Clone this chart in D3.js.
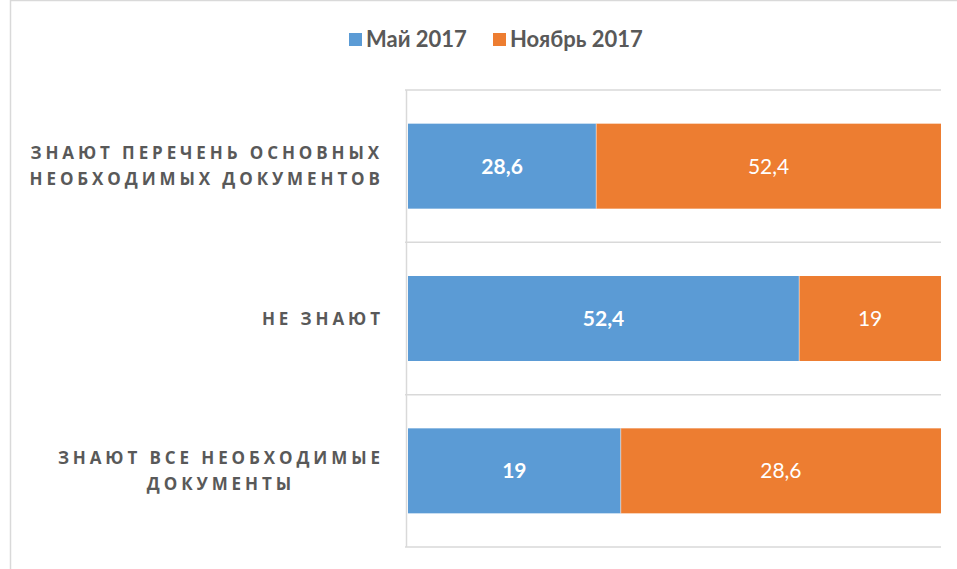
<!DOCTYPE html>
<html><head><meta charset="utf-8">
<script src="https://cdn.jsdelivr.net/npm/d3@7"></script>
<style>body{margin:0;background:#fff;}svg{display:block;}</style>
</head><body>
<script>
const categories = [
  ["ЗНАЮТ ПЕРЕЧЕНЬ ОСНОВНЫХ", "НЕОБХОДИМЫХ ДОКУМЕНТОВ"],
  ["НЕ ЗНАЮТ"],
  ["ЗНАЮТ ВСЕ НЕОБХОДИМЫЕ", "ДОКУМЕНТЫ"]
];
const seriesNames = ["Май 2017", "Ноябрь 2017"];
const may2017 = [28.6, 52.4, 19];
const nov2017 = [52.4, 19, 28.6];
const colors = ["#5b9bd5", "#ed7d31"];
const labelWeights = ["bold", "normal"];

const W = 957, H = 569;
const svg = d3.select("body").append("svg").attr("width", W).attr("height", H);

// outer border
svg.append("line").attr("x1",10.5).attr("x2",10.5).attr("y1",0).attr("y2",H).attr("stroke","#d9d9d9").attr("stroke-width",1.5);
svg.append("line").attr("x1",10).attr("x2",W).attr("y1",0.5).attr("y2",0.5).attr("stroke","#d9d9d9").attr("stroke-width",1.5);

const idx = d3.range(categories.length);
const y = d3.scaleBand().domain(idx).range([90, 547]).paddingInner(0.442).paddingOuter(0.221);
const x = d3.scaleLinear().domain([0, 1]).range([408, 941]);

const data = idx.map(i => {
  const vals = [may2017[i], nov2017[i]];
  const tot = d3.sum(vals);
  let acc = 0;
  return vals.map((v, s) => { const d = {i, s, v, x0: acc / tot, x1: (acc + v) / tot}; acc += v; return d; });
});

// separators (category boundaries)
const bounds = idx.map(i => y(i) - y.step() * y.paddingInner() / 2).concat([547]);
bounds[0] = 90;
svg.append("g").selectAll("line").data(bounds).join("line")
  .attr("x1", 405).attr("x2", 941).attr("y1", d => d).attr("y2", d => d)
  .attr("stroke", "#d9d9d9").attr("stroke-width", 1.5);
svg.append("line").attr("x1", 406.5).attr("x2", 406.5).attr("y1", 90).attr("y2", 547)
  .attr("stroke", "#d9d9d9").attr("stroke-width", 1.5);

const segs = data.flat();
svg.append("g").selectAll("rect").data(segs).join("rect")
  .attr("x", d => x(d.x0)).attr("width", d => x(d.x1) - x(d.x0))
  .attr("y", d => y(d.i)).attr("height", y.bandwidth())
  .attr("fill", d => colors[d.s]);
// thin white divider
svg.append("g").selectAll("line").data(segs.filter(d => d.s === 1)).join("line")
  .attr("x1", d => x(d.x0)).attr("x2", d => x(d.x0))
  .attr("y1", d => y(d.i)).attr("y2", d => y(d.i) + y.bandwidth())
  .attr("stroke", "#fff").attr("stroke-width", 0.8).attr("stroke-opacity", 0.6);

svg.append("g").selectAll("text").data(segs).join("text")
  .attr("x", d => (x(d.x0) + x(d.x1)) / 2).attr("y", d => y(d.i) + y.bandwidth() / 2)
  .attr("dy", "0.36em").attr("text-anchor", "middle")
  .attr("fill", "#fff").attr("font-family", "Lato, 'Open Sans', sans-serif")
  .attr("font-size", 21).attr("font-weight", d => labelWeights[d.s])
  .text(d => String(d.v).replace(".", ","));

// category labels (lines centred within a right-aligned block)
const ls = 3.9;
const rightEdge = 380 + ls;
const cat = svg.append("g").selectAll("text").data(idx).join("text")
  .attr("text-anchor", "middle").attr("fill", "#595959")
  .attr("font-family", "'Open Sans', sans-serif").attr("font-size", 17).attr("font-weight", "bold")
  .attr("letter-spacing", ls + "px")
  .attr("y", i => y(i) + y.bandwidth() / 2);
cat.each(function(i) {
  const lines = categories[i];
  const t = d3.select(this);
  const n = lines.length;
  const lh = 26 / 17;
  const spans = lines.map((ln, k) => t.append("tspan")
      .attr("dy", k === 0 ? ((-(n - 1) / 2) * lh + 0.36) + "em" : lh + "em")
      .text(ln));
  const maxW = d3.max(spans, s => s.node().getComputedTextLength());
  spans.forEach(s => s.attr("x", rightEdge - maxW / 2));
});

// legend
const leg = svg.append("g");
const legX = [349, 493];
seriesNames.forEach((nm, s) => {
  leg.append("rect").attr("x", legX[s]).attr("y", 33).attr("width", 13).attr("height", 13).attr("fill", colors[s]);
  leg.append("text").attr("x", legX[s] + 17).attr("y", 39.5).attr("dy", "0.36em")
    .attr("fill", "#595959").attr("font-family", "Lato, sans-serif").attr("font-size", 22).attr("font-weight", "bold")
    .text(nm);
});
</script>
</body></html>
